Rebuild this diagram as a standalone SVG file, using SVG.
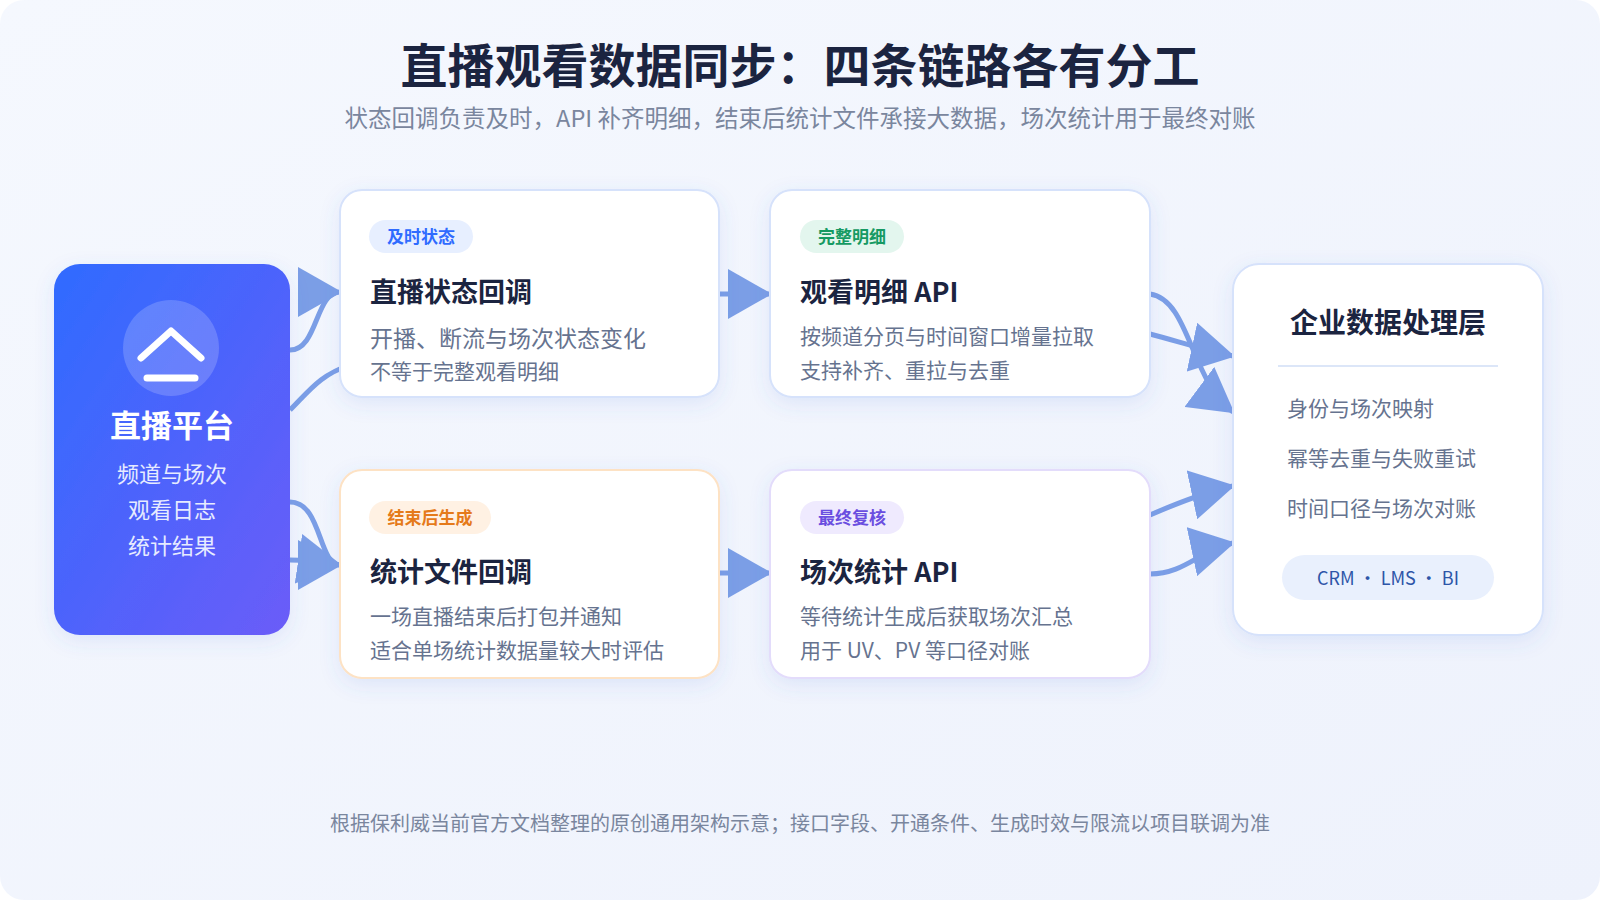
<svg xmlns="http://www.w3.org/2000/svg" width="1600" height="900" viewBox="0 0 1600 900">
<defs>
<linearGradient id="bg" x1="0" y1="0" x2="1" y2="1"><stop offset="0" stop-color="#f5f8fe"/><stop offset="1" stop-color="#eef2fc"/></linearGradient>
<linearGradient id="src" x1="0" y1="0" x2="1" y2="1"><stop offset="0" stop-color="#2f6bff"/><stop offset="1" stop-color="#6b5cf8"/></linearGradient>
<marker id="ah" markerUnits="userSpaceOnUse" markerWidth="44" markerHeight="50" refX="42" refY="25" orient="auto"><path d="M0,0 L44,25 L0,50 Z" fill="#7b9ee6"/></marker>
<filter id="sh" x="-10%" y="-10%" width="120%" height="130%"><feDropShadow dx="0" dy="6" stdDeviation="10" flood-color="#4a6fd8" flood-opacity="0.12"/></filter>
<style>
text{font-family:"Noto Sans CJK SC","Noto Sans",sans-serif}
.card{fill:#fff;stroke-width:2}
.ttl{font-size:27px;font-weight:700;fill:#1b2440}
.d{font-size:23px;fill:#66738f}
.s{font-size:21px;fill:#66738f}
.tag{font-size:17px;font-weight:700}
.c{fill:none;stroke:#7b9ee6;stroke-width:5}
.r{font-size:21px;fill:#66738f}
</style>
</defs>
<rect x="0" y="0" width="1600" height="900" rx="24" fill="url(#bg)"/>
<text x="800" y="83" text-anchor="middle" font-size="47" font-weight="700" fill="#1b2440">直播观看数据同步：四条链路各有分工</text>
<text x="800" y="127" text-anchor="middle" font-size="23.5" fill="#7a869e">状态回调负责及时，API 补齐明细，结束后统计文件承接大数据，场次统计用于最终对账</text>
<g id="connectors">
<path class="c" d="M290,350 C318,350 315,292 340,292" marker-end="url(#ah)"/>
<path class="c" d="M290,410 C310,390 320,375 350,365"/>
<path class="c" d="M290,502 C322,502 318,565 340,565" marker-end="url(#ah)"/>
<path class="c" d="M290,560 C310,560 320,562 340,565" marker-end="url(#ah)"/>
<path class="c" d="M719,294 L770,294" marker-end="url(#ah)"/>
<path class="c" d="M719,573 L770,573" marker-end="url(#ah)"/>
<path class="c" d="M1150,294 C1190,300 1190,380 1233,412" marker-end="url(#ah)"/>
<path class="c" d="M1150,334 C1180,342 1205,350 1233,356" marker-end="url(#ah)"/>
<path class="c" d="M1150,515 C1180,502 1205,492 1233,486" marker-end="url(#ah)"/>
<path class="c" d="M1150,574 C1185,574 1200,550 1233,543" marker-end="url(#ah)"/>
</g>
<g id="source">
<rect x="54" y="264" width="236" height="371" rx="26" fill="url(#src)" filter="url(#sh)"/>
<circle cx="171" cy="348" r="48" fill="#ffffff" fill-opacity="0.18"/>
<path d="M141,358 L171,331 L201,358" fill="none" stroke="#fff" stroke-width="7" stroke-linecap="round" stroke-linejoin="round"/>
<line x1="147" y1="378" x2="195" y2="378" stroke="#fff" stroke-width="7" stroke-linecap="round"/>
<text x="172" y="437" text-anchor="middle" font-size="31" font-weight="700" fill="#fff">直播平台</text>
<text x="172" y="482" text-anchor="middle" font-size="22" fill="#e6ebff">频道与场次</text>
<text x="172" y="518" text-anchor="middle" font-size="22" fill="#e6ebff">观看日志</text>
<text x="172" y="554" text-anchor="middle" font-size="22" fill="#e6ebff">统计结果</text>
</g>
<g id="status">
<rect class="card" x="340" y="190" width="379" height="207" rx="22" stroke="#d6e2fb" filter="url(#sh)"/>
<rect x="369" y="220" width="104" height="33" rx="16.5" fill="#e7efff"/>
<text class="tag" x="421" y="243" text-anchor="middle" fill="#2f6bff">及时状态</text>
<text class="ttl" x="370" y="302">直播状态回调</text>
<text class="d" x="370" y="347">开播、断流与场次状态变化</text>
<text class="s" x="370" y="379" font-size="19">不等于完整观看明细</text>
</g>
<g id="detail">
<rect class="card" x="770" y="190" width="380" height="207" rx="22" stroke="#d6e2fb" filter="url(#sh)"/>
<rect x="800" y="220" width="104" height="33" rx="16.5" fill="#e3f6ee"/>
<text class="tag" x="852" y="243" text-anchor="middle" fill="#169a63">完整明细</text>
<text class="ttl" x="800" y="302">观看明细 API</text>
<text class="s" x="800" y="344">按频道分页与时间窗口增量拉取</text>
<text class="s" x="800" y="378">支持补齐、重拉与去重</text>
</g>
<g id="file">
<rect class="card" x="340" y="470" width="379" height="208" rx="22" stroke="#fde2c4" filter="url(#sh)"/>
<rect x="369" y="501" width="122" height="33" rx="16.5" fill="#fff1e3"/>
<text class="tag" x="430" y="524" text-anchor="middle" fill="#e57a1a">结束后生成</text>
<text class="ttl" x="370" y="582">统计文件回调</text>
<text class="s" x="370" y="624">一场直播结束后打包并通知</text>
<text class="s" x="370" y="658">适合单场统计数据量较大时评估</text>
</g>
<g id="session">
<rect class="card" x="770" y="470" width="380" height="208" rx="22" stroke="#e3dcfb" filter="url(#sh)"/>
<rect x="800" y="501" width="104" height="33" rx="16.5" fill="#efeafe"/>
<text class="tag" x="852" y="524" text-anchor="middle" fill="#6a4ee0">最终复核</text>
<text class="ttl" x="800" y="582">场次统计 API</text>
<text class="s" x="800" y="624">等待统计生成后获取场次汇总</text>
<text class="s" x="800" y="658">用于 UV、PV 等口径对账</text>
</g>
<g id="enterprise">
<rect class="card" x="1233" y="264" width="310" height="371" rx="26" stroke="#d6e2fb" filter="url(#sh)"/>
<text x="1388" y="333" text-anchor="middle" font-size="28" font-weight="700" fill="#1b2440">企业数据处理层</text>
<line x1="1278" y1="366" x2="1498" y2="366" stroke="#dce6f8" stroke-width="2"/>
<text class="r" x="1287" y="416">身份与场次映射</text>
<text class="r" x="1287" y="466">幂等去重与失败重试</text>
<text class="r" x="1287" y="516">时间口径与场次对账</text>
<rect x="1282" y="555" width="212" height="45" rx="22.5" fill="#e9f0fd"/>
<text x="1388" y="585" text-anchor="middle" font-size="18" fill="#2d55a8" font-family="Liberation Sans, sans-serif">CRM · LMS · BI</text>
</g>
<text x="800" y="831" text-anchor="middle" font-size="20" fill="#7a869e">根据保利威当前官方文档整理的原创通用架构示意；接口字段、开通条件、生成时效与限流以项目联调为准</text>
</svg>
